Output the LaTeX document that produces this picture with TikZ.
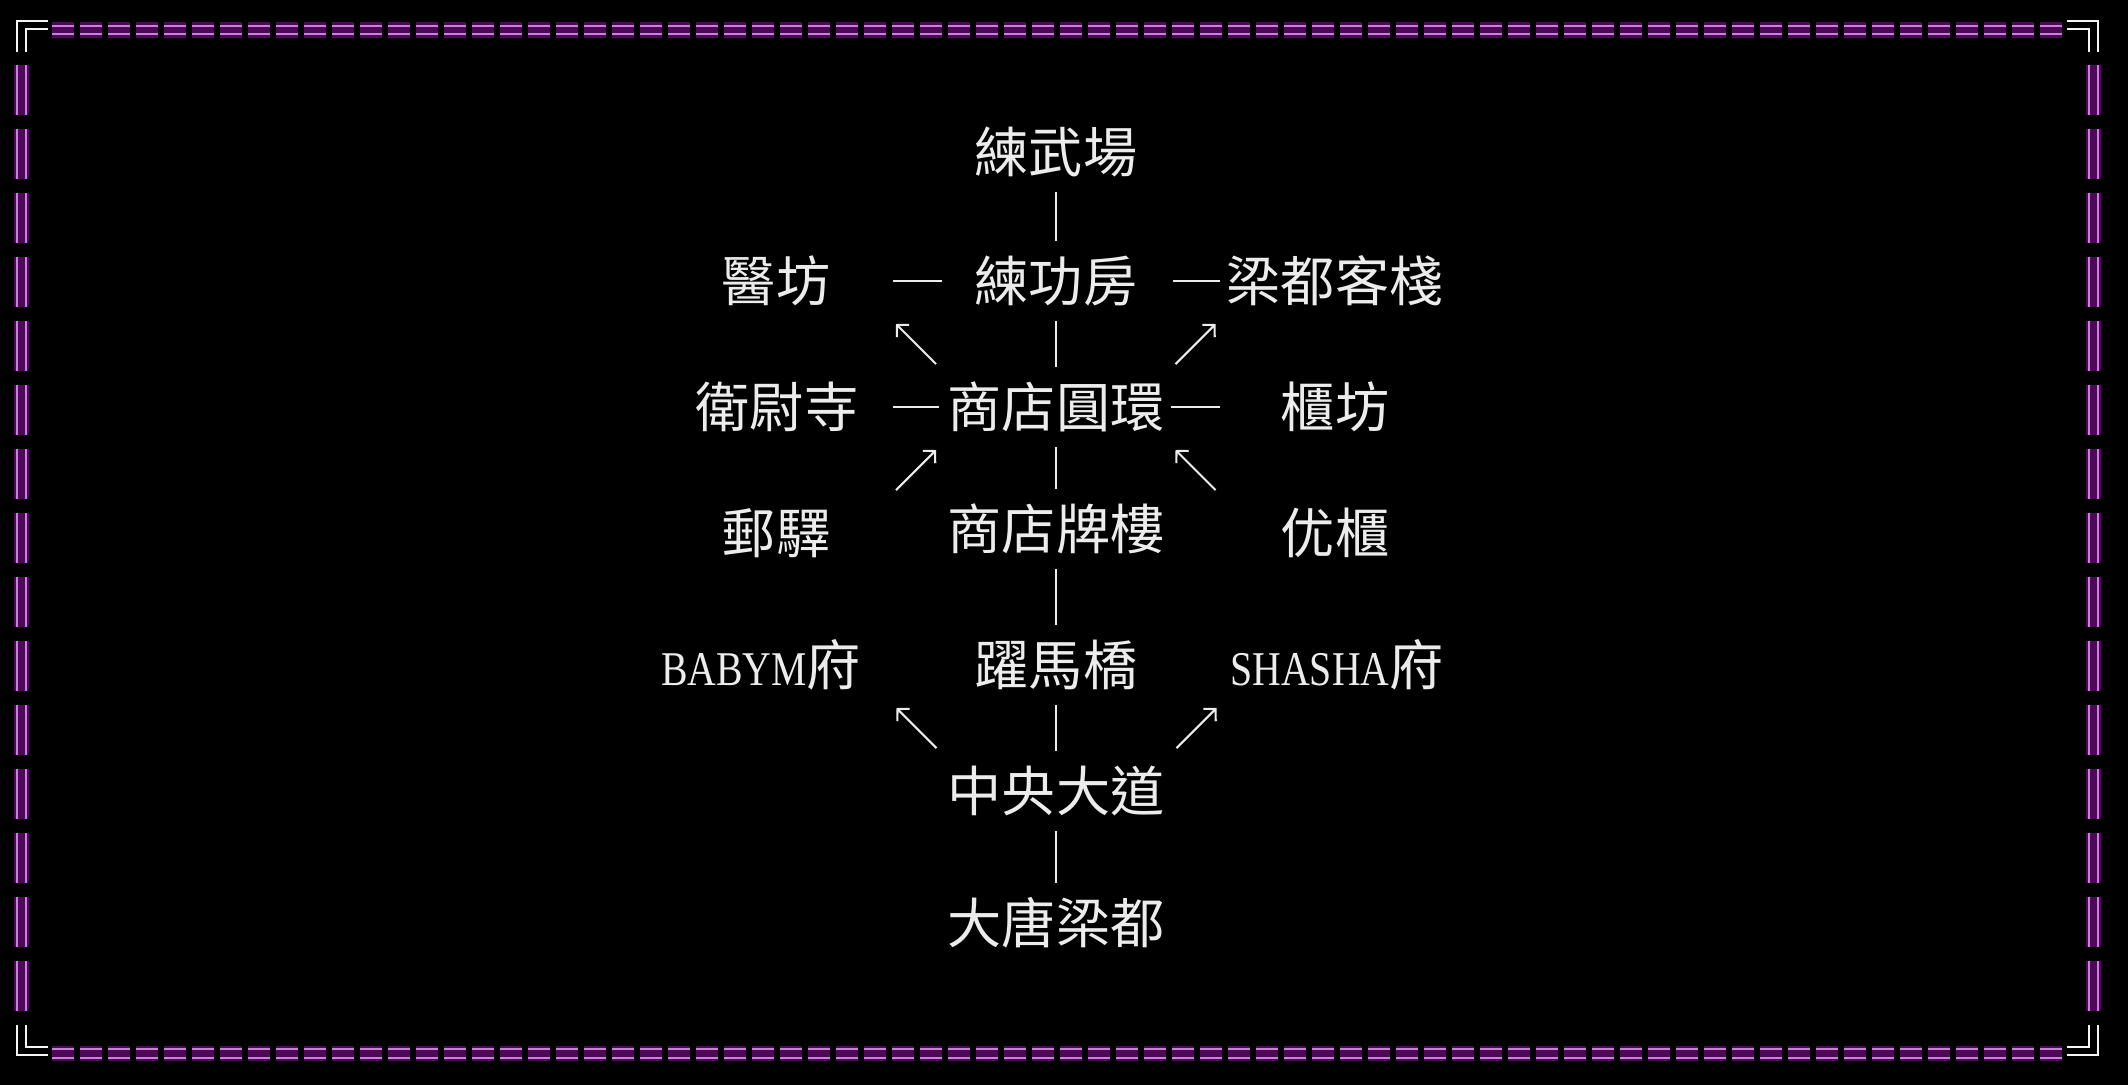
\documentclass[tikz,border=0pt]{standalone}
\usepackage{fontspec}
\usetikzlibrary{arrows.meta,calc}
\newfontfamily\cjk{Noto Sans CJK TC}
\newfontfamily\latin[FakeStretch=0.82]{Liberation Serif}
\definecolor{mapbg}{RGB}{0,0,0}
\definecolor{maptext}{RGB}{236,236,236}
\definecolor{framecore}{RGB}{200,130,218}
\definecolor{frameglow}{RGB}{92,10,104}
\definecolor{framecorner}{RGB}{245,245,245}
\newcommand{\latinpart}[1]{{\latin\fontsize{13.8}{18}\selectfont #1}}

\begin{document}
\begin{tikzpicture}[x=1cm, y=-1cm,
    place/.style={font=\cjk\fontsize{15.4}{18}\selectfont, text=maptext, inner sep=0pt, text height=13.55pt, text depth=1.85pt},
    link/.style={draw=maptext, line width=0.6pt},
    vlink/.style={link, shorten <=0.12cm, shorten >=0.12cm},
    arrowline/.style={draw=maptext, line width=0.6pt, -{Straight Barb[length=2.4pt,width=5pt]}},
    glow/.style={draw=frameglow, line width=4.5pt, opacity=0.85},
    core/.style={draw=framecore, line width=0.6pt},
    corner/.style={draw=framecorner, line width=0.7pt}
]
    % background and frame
    \useasboundingbox (0,0) rectangle (21.28,10.84);
    \fill[mapbg] (-0.2,-0.2) rectangle (21.48,11.04);

    \draw[glow, dash pattern=on 0.22cm off 0.06cm] (0.52,0.297) -- (20.63,0.297);
    \draw[glow, dash pattern=on 0.22cm off 0.06cm] (0.52,10.535) -- (20.63,10.535);
    \draw[glow, dash pattern=on 0.50cm off 0.14cm] (0.215,0.65) -- (0.215,10.11);
    \draw[glow, dash pattern=on 0.50cm off 0.14cm] (20.935,0.65) -- (20.935,10.11);
    \foreach \y in {0.257, 0.337, 10.49, 10.58} {
        \draw[core, dash pattern=on 0.22cm off 0.06cm] (0.52,\y) -- (20.63,\y);
    }
    \foreach \x in {0.17, 0.26, 20.89, 20.98} {
        \draw[core, dash pattern=on 0.50cm off 0.14cm] (\x,0.65) -- (\x,10.11);
    }

    % corners
    \draw[corner] (0.17,0.52) |- (0.48,0.21);
    \draw[corner] (0.26,0.52) |- (0.48,0.29);
    \draw[corner] (20.98,0.52) |- (20.67,0.21);
    \draw[corner] (20.89,0.52) |- (20.67,0.29);
    \draw[corner] (0.17,10.25) |- (0.48,10.55);
    \draw[corner] (0.26,10.25) |- (0.48,10.47);
    \draw[corner] (20.98,10.25) |- (20.67,10.55);
    \draw[corner] (20.89,10.25) |- (20.67,10.47);

    % places
    \node[place] (lianwu)    at (10.56,1.52) {練武場};
    \node[place] (yifang)    at (7.76,2.81)  {醫坊};
    \node[place] (liangong)  at (10.56,2.81) {練功房};
    \node[place] (kezhan)    at (13.35,2.81) {梁都客棧};
    \node[place] (weiwei)    at (7.77,4.07)  {衛尉寺};
    \node[place] (ring)      at (10.56,4.07) {商店圓環};
    \node[place] (guifang)   at (13.35,4.07) {櫃坊};
    \node[place] (youyi)     at (7.76,5.33)  {郵驛};
    \node[place] (pailou)    at (10.56,5.29) {商店牌樓};
    \node[place] (dugui)     at (13.35,5.33) {优櫃};
    \node[place] (baby)      at (7.61,6.65)  {\latinpart{BABYM}府};
    \node[place] (yaoma)     at (10.56,6.65) {躍馬橋};
    \node[place] (shasha)    at (13.37,6.65) {\latinpart{SHASHA}府};
    \node[place] (zhongyang) at (10.56,7.91) {中央大道};
    \node[place] (datang)    at (10.56,9.23) {大唐梁都};

    % roads
    \draw[vlink] (lianwu) -- (liangong);
    \draw[vlink] (liangong) -- (ring);
    \draw[vlink] (ring) -- (pailou);
    \draw[vlink] (pailou) -- (yaoma);
    \draw[vlink] (yaoma) -- (zhongyang);
    \draw[vlink] (zhongyang) -- (datang);

    \draw[link, shorten <=0.62cm, shorten >=0.32cm] (yifang) -- (liangong);
    \draw[link, shorten <=0.35cm, shorten >=0.06cm] (liangong) -- (kezhan);
    \draw[link, shorten <=0.34cm, shorten >=0.08cm] (weiwei) -- (ring);
    \draw[link, shorten <=0.06cm, shorten >=0.60cm] (ring) -- (guifang);

    % one-way exits
    \draw[arrowline] ($(ring)!0.5!(yifang)$) ++(0.2,0.2) -- ++(-0.4,-0.4);
    \draw[arrowline] ($(ring)!0.5!(kezhan)$) ++(-0.2,0.2) -- ++(0.4,-0.4);
    \draw[arrowline] ($(ring)!0.5!(youyi)$) ++(-0.2,0.2) -- ++(0.4,-0.4);
    \draw[arrowline] ($(ring)!0.5!(dugui)$) ++(0.2,0.2) -- ++(-0.4,-0.4);
    \draw[arrowline] ($(zhongyang)!0.5!(baby)+(0.08,0)$) ++(0.2,0.2) -- ++(-0.4,-0.4);
    \draw[arrowline] ($(zhongyang)!0.5!(shasha)$) ++(-0.2,0.2) -- ++(0.4,-0.4);
\end{tikzpicture}
\end{document}
